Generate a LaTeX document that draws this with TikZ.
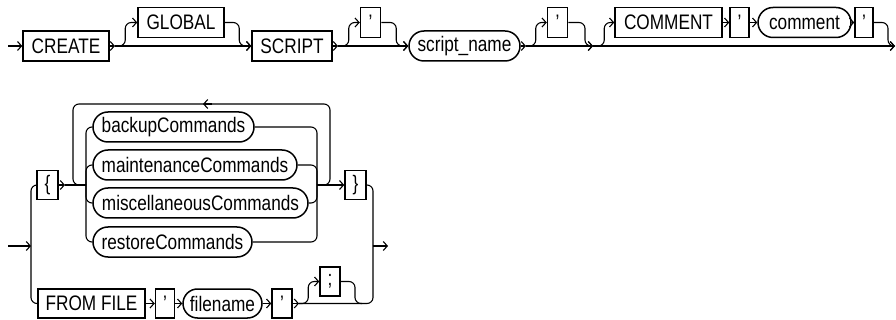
\documentclass[tikz,border=0pt]{standalone}
\usepackage{fontspec}
\setmainfont{Liberation Sans}[FakeStretch=0.82]
\usetikzlibrary{arrows.meta,shapes.misc}
\begin{document}
\begin{tikzpicture}[x=1pt,y=-1pt,
  kw/.style={draw,rectangle,line width=1.5pt,inner sep=0pt,minimum height=30pt,font=\fontsize{21}{21}\selectfont},
  nt/.style={draw,rounded rectangle,line width=1.5pt,inner sep=0pt,minimum height=30pt,font=\fontsize{21}{21}\selectfont},
  ln/.style={line width=1.1pt,rounded corners=6pt},
  arr/.style={ln,-{Straight Barb[length=4pt,width=9pt]}}]
\useasboundingbox (0,0) rectangle (896,320);
% ---------- top row ----------
\node[kw,minimum width=86pt] (create) at (66,46) {CREATE};
\node[kw,minimum width=86pt] (global) at (181,22.5) {GLOBAL};
\node[kw,minimum width=80pt] (script) at (292,46) {SCRIPT};
\node[kw,minimum width=20pt] (q1) at (370.5,22.5) {'};
\node[nt,minimum width=111pt] (sname) at (464.5,46) {script\_name};
\node[kw,minimum width=20pt] (q2) at (557.5,22.5) {'};
\node[kw,minimum width=107pt] (comment) at (668.5,22.5) {COMMENT};
\node[kw,minimum width=19pt] (q3) at (739.5,22.5) {'};
\node[nt,minimum width=93pt] (cmt) at (804.5,22.5) {comment};
\node[kw,minimum width=18pt] (q4) at (864,22.5) {'};
\coordinate (start1) at (8,46);
\coordinate (f1) at (115,46);
\coordinate (f2) at (338,46);
\coordinate (f3) at (526,46);
\coordinate (j3) at (593,46);
\coordinate (end1) at (895,46);

\draw[arr] (start1) -- (create.west);
\draw[arr] (create.east) -- (f1);
\draw[arr] (f1) -| ([xshift=-12pt]global.west) -- (global.west);
\draw[arr] (global.east) -| ([xshift=-12pt]script.west) -- (script.west);
\draw[arr] (f1) -- (script.west);

\draw[arr] (script.east) -- (f2);
\draw[arr] (f2) -| ([xshift=-11pt]q1.west) -- (q1.west);
\draw[arr] (q1.east) -| ([xshift=-12pt]sname.west) -- (sname.west);
\draw[arr] (f2) -- (sname.west);

\draw[arr] (sname.east) -- (f3);
\draw[arr] (f3) -| ([xshift=-11pt]q2.west) -- (q2.west);
\draw[arr] (q2.east) -| ([xshift=-8pt]j3) -- (j3);
\draw[arr] (f3) -- (j3);

\draw[arr] (j3) -| ([xshift=-10pt]comment.west) -- (comment.west);
\draw[arr] (comment.east) -- (q3.west);
\draw[arr] (q3.east) -- (cmt.west);
\draw[arr] (cmt.east) -- (q4.west);
\draw[arr] (q4.east) -| ([xshift=-7pt]end1) -- (end1);
\draw[arr] (j3) -- (end1);

% ---------- bottom part ----------
\node[kw,minimum width=21pt,minimum height=29pt] (lbrace) at (47.5,185) {\{};
\node[nt,minimum width=161pt] (backup) at (173.5,127) {backupCommands};
\node[nt,minimum width=204pt] (maint) at (195,165) {maintenanceCommands};
\node[nt,minimum width=215pt] (misc) at (200.5,203) {miscellaneousCommands};
\node[nt,minimum width=159pt] (restore) at (172.5,242) {restoreCommands};
\node[kw,minimum width=21pt,minimum height=29pt] (rbrace) at (355.5,185) {\}};
\node[kw,minimum width=107pt,minimum height=29pt] (ff) at (91.5,303.5) {FROM FILE};
\node[kw,minimum width=19pt,minimum height=29pt] (q5) at (165,303.5) {'};
\node[nt,minimum width=79pt,minimum height=29pt] (fname) at (222.5,303.5) {filename};
\node[kw,minimum width=20pt,minimum height=29pt] (q6) at (282,303.5) {'};
\node[kw,minimum width=20pt,minimum height=29pt] (semi) at (330,281.5) {;};

\coordinate (entry) at (8,246);
\coordinate (lbus) at (31,246);
\coordinate (bf) at (65,185);
\coordinate (jl) at (86,185);
\coordinate (jr) at (317,185);
\coordinate (lt) at (73,104);
\coordinate (rt) at (330,104);
\coordinate (loopa) at (212,104);
\coordinate (loopb) at (203,104);
\coordinate (rbus) at (373,246);
\coordinate (exit) at (388,246);
\coordinate (f4) at (299,303.5);
\coordinate (sj) at (362,303.5);

\draw[arr] (entry) -- (lbus);
\draw[ln] (lbrace.west) -| (lbus) |- (ff.west);
\draw[arr] (lbrace.east) -- (bf);
\draw[ln] (bf) -- (jl);
\draw[ln] (jl) |- (backup.west);
\draw[ln] (jl) |- (maint.west);
\draw[ln] (jl) |- (misc.west);
\draw[ln] (jl) |- (restore.west);
\draw[ln] (backup.east) -| (jr);
\draw[ln] (maint.east) -| (jr);
\draw[ln] (misc.east) -| (jr);
\draw[ln] (restore.east) -| (jr);
\draw[arr] (jr) -- (rbrace.west);
\draw[ln] (jr) -| (rt) -- (lt) |- (jl);
\draw[arr] (loopa) -- (loopb);
\draw[ln] (rbrace.east) -| (rbus);
\draw[arr] (rbus) -- (exit);

\draw[arr] (ff.east) -- (q5.west);
\draw[arr] (q5.east) -- (fname.west);
\draw[arr] (fname.east) -- (q6.west);
\draw[arr] (q6.east) -- (f4);
\draw[arr] (f4) -| ([xshift=-11pt]semi.west) -- (semi.west);
\draw[ln] (semi.east) -| ([xshift=-7pt]sj) -- (sj);
\draw[ln] (f4) -| (rbus);
\end{tikzpicture}
\end{document}
